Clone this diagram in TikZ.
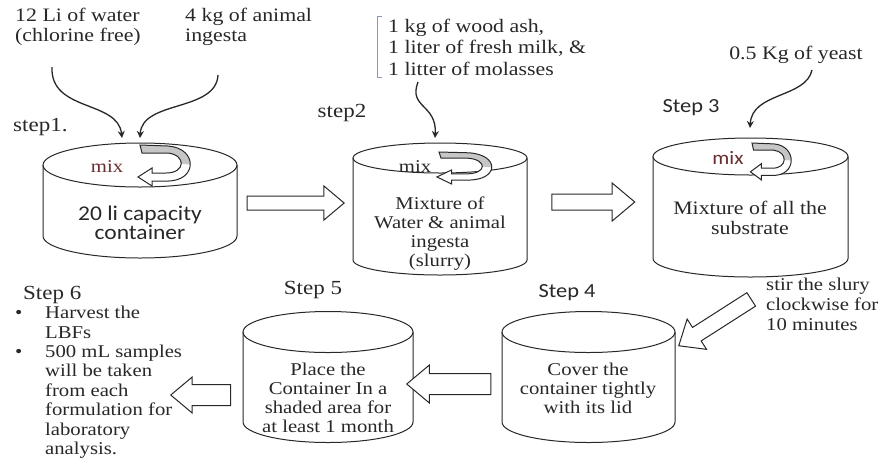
\documentclass[tikz,border=0pt]{standalone}
\usepackage{fontspec}
\setmainfont[FakeStretch=1.15]{Liberation Serif}
\newfontfamily\calibrifont[FakeStretch=1.12]{Carlito}
\usetikzlibrary{shapes.arrows, arrows.meta}

\definecolor{ink}{RGB}{40,40,40}
\definecolor{mixred}{RGB}{105,45,45}
\definecolor{bracketblue}{RGB}{130,155,185}

\tikzset{
  notetext/.style={align=left, text=ink, inner sep=2pt, font=\fontsize{19}{20}\selectfont},
  bodytext/.style={align=center, text=ink, inner sep=0pt, font=\fontsize{18}{19}\selectfont},
  sanstext/.style={align=center, text=ink, inner sep=0pt, font=\calibrifont\fontsize{21}{19}\selectfont},
  mixtext/.style={text=mixred, inner sep=0pt, font=\fontsize{18}{18}\selectfont},
  steptext/.style={text=ink, inner sep=0pt, font=\fontsize{20}{20}\selectfont},
  feed/.style={-{Stealth[length=7pt, width=7pt]}, line width=1.3pt, ink},
  cyl/.style={draw=ink, line width=1pt},
  hollow/.style={single arrow, draw=ink, line width=1pt, fill=white, inner xsep=0pt,
    single arrow tip angle=80},
  mixarrow/.pic={
    \path[fill=white] (0,0) -- (28,1) .. controls (58,3) and (58,37) .. (26,36) -- (12,36) -- (12,41)
      -- (-2,32) -- (12,23) -- (12,28) -- (26,28) .. controls (46,28) and (46,10) .. (28,8) -- (2,8) -- cycle;
    \fill[gray!45] (0,0) -- (28,1) .. controls (43,2) and (50.5,11) .. (50.25,19.6) -- (41.25,18.75)
      .. controls (41.5,14) and (37,9) .. (28,8) -- (2,8) -- cycle;
    \draw[cyl] (0,0) -- (28,1) .. controls (58,3) and (58,37) .. (26,36) -- (12,36) -- (12,41)
      -- (-2,32) -- (12,23) -- (12,28) -- (26,28) .. controls (46,28) and (46,10) .. (28,8) -- (2,8) -- cycle;
  }
}

\begin{document}
\begin{tikzpicture}[x=1pt, y=-1pt]
    \useasboundingbox[fill=white] (0,0) rectangle (882,459);

    % Step 1: water and ingesta
    \node[notetext, anchor=west] (water) at (13,27) {12 Li of water\\(chlorine free)};
    \node[notetext, anchor=west] (ingesta) at (183,27) {4 kg of animal\\ingesta};
    \node[steptext, anchor=west] (step1) at (13,127) {step1.};
    \draw[cyl] (43,165) -- (43,236) arc[start angle=180, end angle=360, x radius=97pt, y radius=22pt] -- (237,165);
    \draw[cyl] (140,165) ellipse [x radius=97pt, y radius=22pt];
    \pic at (140,145) {mixarrow};
    \node[mixtext] (mix1) at (107,167) {mix};
    \node[sanstext] (c1) at (140,223) {20 li capacity\\container};
    \coordinate (water out) at (52,67);
    \coordinate (ingesta out) at (218,75);
    \coordinate (c1 in a) at (122,138);
    \coordinate (c1 in b) at (140,138);
    \draw[feed] (water out) .. controls (50,112) and (118,100) .. (c1 in a);
    \draw[feed] (ingesta out) .. controls (216,112) and (142,100) .. (c1 in b);

    % Step 2: slurry
    \node[notetext, anchor=west, font=\fontsize{19}{21.5}\selectfont] (extras) at (386,47)
        {1 kg of wood ash,\\1 liter of fresh milk, \&\\1 litter of molasses};
    \draw[bracketblue, line width=1pt] ([xshift=-4pt]extras.north west) -- ([xshift=-9pt]extras.north west)
        -- ([xshift=-9pt]extras.south west) -- ([xshift=-4pt]extras.south west);
    \node[steptext] (step2) at (342,113) {step2};
    \draw[cyl] (353,158) -- (353,260) arc[start angle=180, end angle=360, x radius=87pt, y radius=15pt] -- (527,158);
    \draw[cyl] (440,158) ellipse [x radius=87pt, y radius=15pt];
    \pic[xscale=1.05, yscale=0.78] at (439,152) {mixarrow};
    \node[mixtext, text=ink] (mix2) at (415,167) {mix};
    \node[bodytext] (c2) at (440,234) {Mixture of\\Water \& animal\\ingesta\\(slurry)};
    \coordinate (extras out) at (418,82);
    \coordinate (c2 in) at (435,138);
    \draw[feed] (extras out) .. controls (408,108) and (437,104) .. (c2 in);

    % Step 3: yeast
    \node[notetext] (yeast) at (796,55) {0.5 Kg of yeast};
    \node[steptext, font=\calibrifont\fontsize{20}{20}\selectfont] (step3) at (691,108) {Step 3};
    \draw[cyl] (653,156.5) -- (653,258.5) arc[start angle=180, end angle=360, x radius=97.5pt, y radius=18.5pt] -- (848,156.5);
    \draw[cyl] (750.5,156.5) ellipse [x radius=97.5pt, y radius=18.5pt];
    \pic[xscale=0.78, yscale=0.9] at (752,143) {mixarrow};
    \node[mixtext, font=\calibrifont\fontsize{19}{19}\selectfont] (mix3) at (728,158) {mix};
    \node[bodytext, font=\fontsize{19}{20}\selectfont] (c3) at (750,218) {Mixture of all the\\substrate};
    \coordinate (yeast out) at (812,70);
    \coordinate (c3 in) at (750,128);
    \draw[feed] (yeast out) .. controls (806,98) and (752,92) .. (c3 in);

    % Step 4: cover
    \node[steptext, font=\calibrifont\fontsize{20}{20}\selectfont] (step4) at (567,293) {Step 4};
    \draw[cyl] (502,332) -- (502,422) arc[start angle=180, end angle=360, x radius=86.5pt, y radius=20.5pt] -- (675,332);
    \draw[cyl] (588.5,332) ellipse [x radius=86.5pt, y radius=20.5pt];
    \node[bodytext] (c4) at (588,388) {Cover the\\container tightly\\with its lid};
    \node[notetext, anchor=west, font=\fontsize{18}{20}\selectfont] (stir) at (764,304)
        {stir the slury\\clockwise for\\10 minutes};

    % Step 5: shade
    \node[steptext] (step5) at (313,290) {Step 5};
    \draw[cyl] (243,332) -- (243,422) arc[start angle=180, end angle=360, x radius=85pt, y radius=20.5pt] -- (413,332);
    \draw[cyl] (328,332) ellipse [x radius=85pt, y radius=20.5pt];
    \node[bodytext] (c5) at (328,398) {Place the\\Container In a\\shaded area for\\at least 1 month};

    % Step 6: harvest
    \node[steptext, anchor=west] (step6) at (23,295) {Step 6};
    \node[notetext, anchor=north west, inner sep=0pt, font=\fontsize{18}{19.4}\selectfont] (harvest) at (12,306)
        {\makebox[33pt][l]{\hspace{3pt}\textbullet}Harvest the\\\hspace*{33pt}LBFs\\
         \makebox[33pt][l]{\hspace{3pt}\textbullet}500 mL samples\\\hspace*{33pt}will be taken\\
         \hspace*{33pt}from each\\\hspace*{33pt}formulation for\\\hspace*{33pt}laboratory\\\hspace*{33pt}analysis.};

    % Flow arrows
    \node[hollow, minimum height=97pt, inner ysep=6.5pt, single arrow head extend=10pt] (a12) at (291.5,203) {};
    \node[hollow, minimum height=83pt, inner ysep=7.5pt, single arrow head extend=11pt] (a23) at (588.5,202) {};
    \node[hollow, minimum height=86pt, inner ysep=7.5pt, single arrow head extend=10pt, rotate=212.6] (a34) at (719,320) {};
    \node[hollow, minimum height=84pt, inner ysep=10pt, single arrow head extend=8.5pt, rotate=180] (a45) at (455,384) {};
    \node[hollow, minimum height=60pt, inner ysep=10pt, single arrow head extend=7.5pt, rotate=180] (a56) at (207,395) {};
\end{tikzpicture}
\end{document}
